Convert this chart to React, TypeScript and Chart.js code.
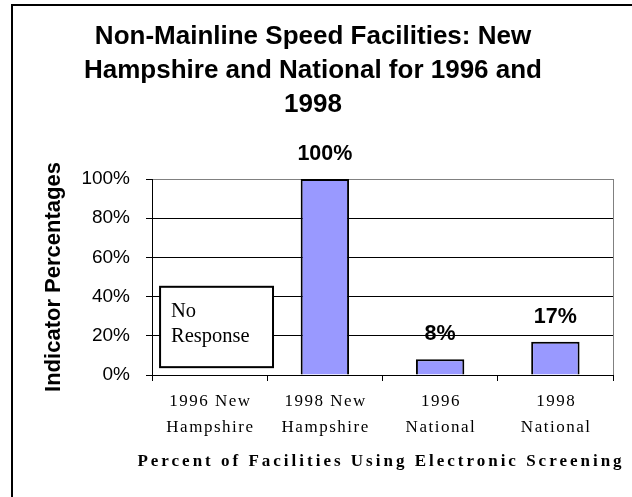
import React, { useEffect, useRef } from "react";
import { Chart, registerables } from "chart.js";

Chart.register(...registerables);

const categories: string[][] = [
  ["1996 New", "Hampshire"],
  ["1998 New", "Hampshire"],
  ["1996", "National"],
  ["1998", "National"],
];
const values: (number | null)[] = [null, 100, 8, 17];
const valueLabels = ["", "100%", "8%", "17%"];
const yTickLabels = ["0%", "20%", "40%", "60%", "80%", "100%"];
const titleLines = [
  "Non-Mainline Speed Facilities: New",
  "Hampshire and National for 1996 and",
  "1998",
];
const yTitle = "Indicator Percentages";
const xTitle = "Percent of Facilities Using Electronic Screening";
const noResponseLines = ["No", "Response"];
// annotation box (category index units / percent units)
const noResponseBox = { x0: -0.43, x1: 0.55, y0: 4, y1: 45 };

const SANS = "'Liberation Sans', Arial, sans-serif";
const SERIF = "'Liberation Serif', 'Times New Roman', serif";

const overlayPlugin = {
  id: "overlay",
  afterDraw(chart: any) {
    const { ctx, chartArea, scales } = chart;
    const xs = scales.x;
    const ys = scales.y;
    ctx.save();

    // outer frame (top + left)
    ctx.strokeStyle = "#000";
    ctx.lineWidth = 2;
    ctx.beginPath();
    ctx.moveTo(12, chart.height);
    ctx.lineTo(12, 5);
    ctx.lineTo(chart.width, 5);
    ctx.stroke();

    // right plot border (gray)
    ctx.strokeStyle = "#808080";
    ctx.lineWidth = 1;
    ctx.beginPath();
    ctx.moveTo(Math.round(chartArea.right) + 0.5, chartArea.top);
    ctx.lineTo(Math.round(chartArea.right) + 0.5, chartArea.bottom);
    ctx.stroke();

    // No Response box
    const bl = xs.getPixelForValue(noResponseBox.x0);
    const br = xs.getPixelForValue(noResponseBox.x1);
    const bt = ys.getPixelForValue(noResponseBox.y1);
    const bb = ys.getPixelForValue(noResponseBox.y0);
    ctx.fillStyle = "#fff";
    ctx.fillRect(bl, bt, br - bl, bb - bt);
    ctx.strokeStyle = "#000";
    ctx.lineWidth = 2;
    ctx.strokeRect(bl, bt, br - bl, bb - bt);
    ctx.fillStyle = "#000";
    ctx.font = `20.5px ${SERIF}`;
    ctx.textAlign = "left";
    ctx.textBaseline = "alphabetic";
    noResponseLines.forEach((t, i) => ctx.fillText(t, bl + 11, bt + 30.5 + i * 25));

    // value labels
    const meta = chart.getDatasetMeta(0);
    ctx.font = `bold 21.5px ${SANS}`;
    ctx.textAlign = "center";
    meta.data.forEach((bar: any, i: number) => {
      if (values[i] == null) return;
      ctx.fillText(valueLabels[i], bar.x, bar.y - 19);
    });

    // x category labels
    const ls = 1.5;
    (ctx as any).letterSpacing = `${ls}px`;
    ctx.font = `17px ${SERIF}`;
    categories.forEach((lines, i) => {
      const px = xs.getPixelForValue(i);
      lines.forEach((t, j) => ctx.fillText(t, px + ls / 2, chartArea.bottom + 31 + j * 26));
    });

    // x axis title
    const ls2 = 3;
    (ctx as any).letterSpacing = `${ls2}px`;
    ctx.font = `bold 17px ${SERIF}`;
    ctx.fillText(xTitle, (chartArea.left + chartArea.right) / 2 - 3 + ls2 / 2, chartArea.bottom + 90.5);
    (ctx as any).letterSpacing = "0px";

    ctx.restore();
  },
};

export default function App() {
  const ref = useRef<HTMLCanvasElement>(null);
  useEffect(() => {
    const canvas = ref.current!;
    const chart = new Chart(canvas, {
      type: "bar",
      data: {
        labels: categories.map((c) => c.join(" ")),
        datasets: [
          {
            data: values as any,
            backgroundColor: "#9999FF",
            borderColor: "#000",
            borderWidth: 2,
            barPercentage: 0.42,
            categoryPercentage: 1,
          },
        ],
      },
      options: {
        responsive: false,
        animation: false,
        devicePixelRatio: 1,
        layout: { padding: { top: 20, left: 13, right: 19, bottom: 116 } },
        plugins: {
          legend: { display: false },
          tooltip: { enabled: false },
          title: {
            display: true,
            text: titleLines,
            color: "#000",
            font: { family: SANS, size: 26, weight: "bold", lineHeight: 34 / 26 },
            padding: { top: 0, bottom: 57 },
          },
        },
        scales: {
          x: {
            ticks: { display: false },
            grid: {
              offset: true,
              drawOnChartArea: false,
              drawTicks: true,
              tickLength: 6,
              tickColor: "#000",
              tickWidth: 1,
            },
            border: { color: "#000", width: 1 },
          },
          y: {
            min: 0,
            max: 100,
            ticks: {
              stepSize: 20,
              color: "#000",
              padding: 16,
              font: { family: SANS, size: 19 },
              callback: (_v: any, i: number) => yTickLabels[i],
            },
            grid: {
              color: (c: any) => (c.tick && c.tick.value === 100 ? "#808080" : "#000"),
              tickLength: 6,
              tickColor: "#000",
            },
            border: { color: "#000", width: 1 },
            title: {
              display: true,
              text: yTitle,
              color: "#000",
              font: { family: SANS, size: 22, weight: "bold", lineHeight: 1.2 },
              padding: { top: 28, bottom: 0 },
            },
            afterFit: (s: any) => {
              s.width = 139;
            },
          },
        },
      },
      plugins: [overlayPlugin],
    });
    return () => chart.destroy();
  }, []);
  return (
    <div style={{ position: "fixed", left: 0, top: 0, width: 632, height: 497, background: "#fff" }}>
      <canvas ref={ref} width={632} height={497} style={{ display: "block", width: 632, height: 497 }} />
    </div>
  );
}
